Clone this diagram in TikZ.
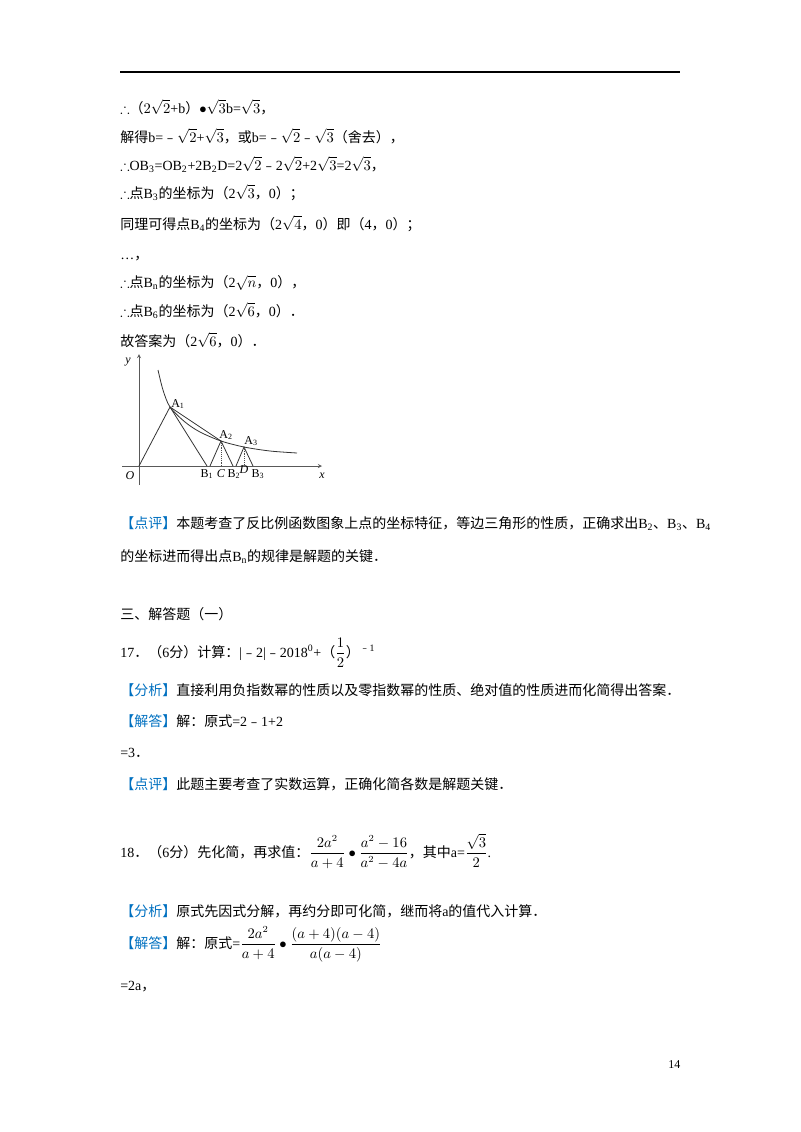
\documentclass[tikz,border=0pt]{standalone}
\usepackage{amsmath,amssymb}
\usepackage{fontspec}
\setmainfont{Liberation Serif}
\newfontfamily\cjk{Noto Sans CJK SC}
\newcommand{\C}[1]{{\cjk #1}}
\newcommand{\mn}{{\cjk ﹣}}
\definecolor{tagblue}{RGB}{0,112,192}
\newcommand{\tagb}[1]{{\cjk\color{tagblue}【#1】}}
\begin{document}
\begin{tikzpicture}[x=0.75pt,y=-0.75pt,
  txt/.style={anchor=base west,inner sep=0,font=\fontsize{10.5}{12}\selectfont},
  lbl/.style={inner sep=0,font=\fontsize{9}{10}\selectfont},
  ax/.style={->,>=stealth,gray!70!black,thin},
  tri/.style={black!80,line width=0.6pt}]
\useasboundingbox (0,0) rectangle (800,1132);
\draw[line width=0.8pt] (120,72) -- (680,72);
\node[txt] (l1) at (120,113) {$\therefore$\C{（}$2\sqrt{2}$+b\C{）}$\bullet\sqrt{3}$b=$\sqrt{3}$\C{，}};
\node[txt] (l2) at (120,142) {\C{解得}b=\mn$\sqrt{2}$+$\sqrt{3}$\C{，或}b=\mn$\sqrt{2}$\mn$\sqrt{3}$\C{（舍去），}};
\node[txt] (l3) at (120,170) {$\therefore$OB\textsubscript{3}=OB\textsubscript{2}+2B\textsubscript{2}D=2$\sqrt{2}$\mn 2$\sqrt{2}$+2$\sqrt{3}$=2$\sqrt{3}$\C{，}};
\node[txt] (l4) at (120,198) {$\therefore$\C{点}B\textsubscript{3}\C{的坐标为（}2$\sqrt{3}$\C{，}0\C{）；}};
\node[txt] (l5) at (120,229) {\C{同理可得点}B\textsubscript{4}\C{的坐标为（}2$\sqrt{4}$\C{，}0\C{）即（}4\C{，}0\C{）；}};
\node[txt] (l6) at (120,259) {…\C{，}};
\node[txt] (l7) at (120,287) {$\therefore$\C{点}B\textsubscript{n}\C{的坐标为（}2$\sqrt{n}$\C{，}0\C{），}};
\node[txt] (l8) at (120,316) {$\therefore$\C{点}B\textsubscript{6}\C{的坐标为（}2$\sqrt{6}$\C{，}0\C{）．}};
\node[txt] (l9) at (120,346) {\C{故答案为（}2$\sqrt{6}$\C{，}0\C{）．}};
% graph
\coordinate (O) at (139,466);
\coordinate (xe) at (322,466);
\coordinate (ye) at (139,354);
\draw[ax] (122,466) -- (xe);
\draw[ax] (139,485) -- (ye);
\coordinate (A1) at (170,407);
\coordinate (B1) at (207,466);
\coordinate (P2) at (210,466);
\coordinate (A2) at (221,441);
\coordinate (B2) at (233,466);
\coordinate (P3) at (236,466);
\coordinate (A3) at (244,447);
\coordinate (B3) at (253,466);
\coordinate (C) at (221,466);
\coordinate (D) at (244,466);
\draw[tri] (O) -- (A1) -- (B1);
\draw[tri] (P2) -- (A2) -- (B2);
\draw[tri] (P3) -- (A3) -- (B3);
\draw[tri] (A1) -- (A2);
\draw[densely dotted,black!70] (A2) -- (C) (A3) -- (D);
\draw[black!80,line width=0.6pt] plot[smooth] coordinates {(158,370) (163,390) (170,407) (185,422) (200,432) (221,441) (244,447) (270,451) (297,453)};
\node[lbl] (ly) at (128,362) {\textit{y}};
\node[lbl] (lx) at (322,476) {\textit{x}};
\node[lbl] (lO) at (130,476) {\textit{O}};
\node[lbl,anchor=south west] (lA1) at (171,409) {A\textsubscript{1}};
\node[lbl,anchor=south] (lA2) at (226,440) {A\textsubscript{2}};
\node[lbl,anchor=south] (lA3) at (251,446) {A\textsubscript{3}};
\node[lbl,anchor=north] (lB1) at (207,469) {B\textsubscript{1}};
\node[lbl,anchor=north] (lC) at (221,469) {\textit{C}};
\node[lbl,anchor=north] (lB2) at (234,469) {B\textsubscript{2}};
\node[lbl,anchor=north] (lD) at (244,465) {\textit{D}};
\node[lbl,anchor=north] (lB3) at (258,469) {B\textsubscript{3}};
% remaining text
\node[txt] (m1) at (120,528) {\tagb{点评}\C{本题考查了反比例函数图象上点的坐标特征，等边三角形的性质，正确求出}B\textsubscript{2}\C{、}B\textsubscript{3}\C{、}B\textsubscript{4}};
\node[txt] (m2) at (120,561) {\C{的坐标进而得出点}B\textsubscript{n}\C{的规律是解题的关键．}};
\node[txt] (m3) at (120,619) {\C{三、解答题（一）}};
\node[txt] (m4) at (120,657) {17\C{．（}6\C{分）计算：}|\mn 2|\mn 2018\textsuperscript{0}+\C{（}$\dfrac{1}{2}$\C{）}\textsuperscript{\mn 1}};
\node[txt] (m5) at (120,695) {\tagb{分析}\C{直接利用负指数幂的性质以及零指数幂的性质、绝对值的性质进而化简得出答案．}};
\node[txt] (m6) at (120,726) {\tagb{解答}\C{解：原式}=2\mn 1+2};
\node[txt] (m7) at (120,757) {=3\C{．}};
\node[txt] (m8) at (120,789) {\tagb{点评}\C{此题主要考查了实数运算，正确化简各数是解题关键．}};
\node[txt] (m9) at (120,857) {18\C{．（}6\C{分）先化简，再求值：}$\dfrac{2a^2}{a+4}\bullet\dfrac{a^2-16}{a^2-4a}$\C{，其中}a=$\dfrac{\sqrt{3}}{2}$.};
\node[txt] (m10) at (120,916) {\tagb{分析}\C{原式先因式分解，再约分即可化简，继而将}a\C{的值代入计算．}};
\node[txt] (m11) at (120,948) {\tagb{解答}\C{解：原式}=$\dfrac{2a^2}{a+4}\bullet\dfrac{(a+4)(a-4)}{a(a-4)}$};
\node[txt] (m12) at (120,990) {=2a\C{，}};
\node[txt] (pg) at (668,1068) {\fontsize{9}{10}\selectfont 14};
\end{tikzpicture}
\end{document}
